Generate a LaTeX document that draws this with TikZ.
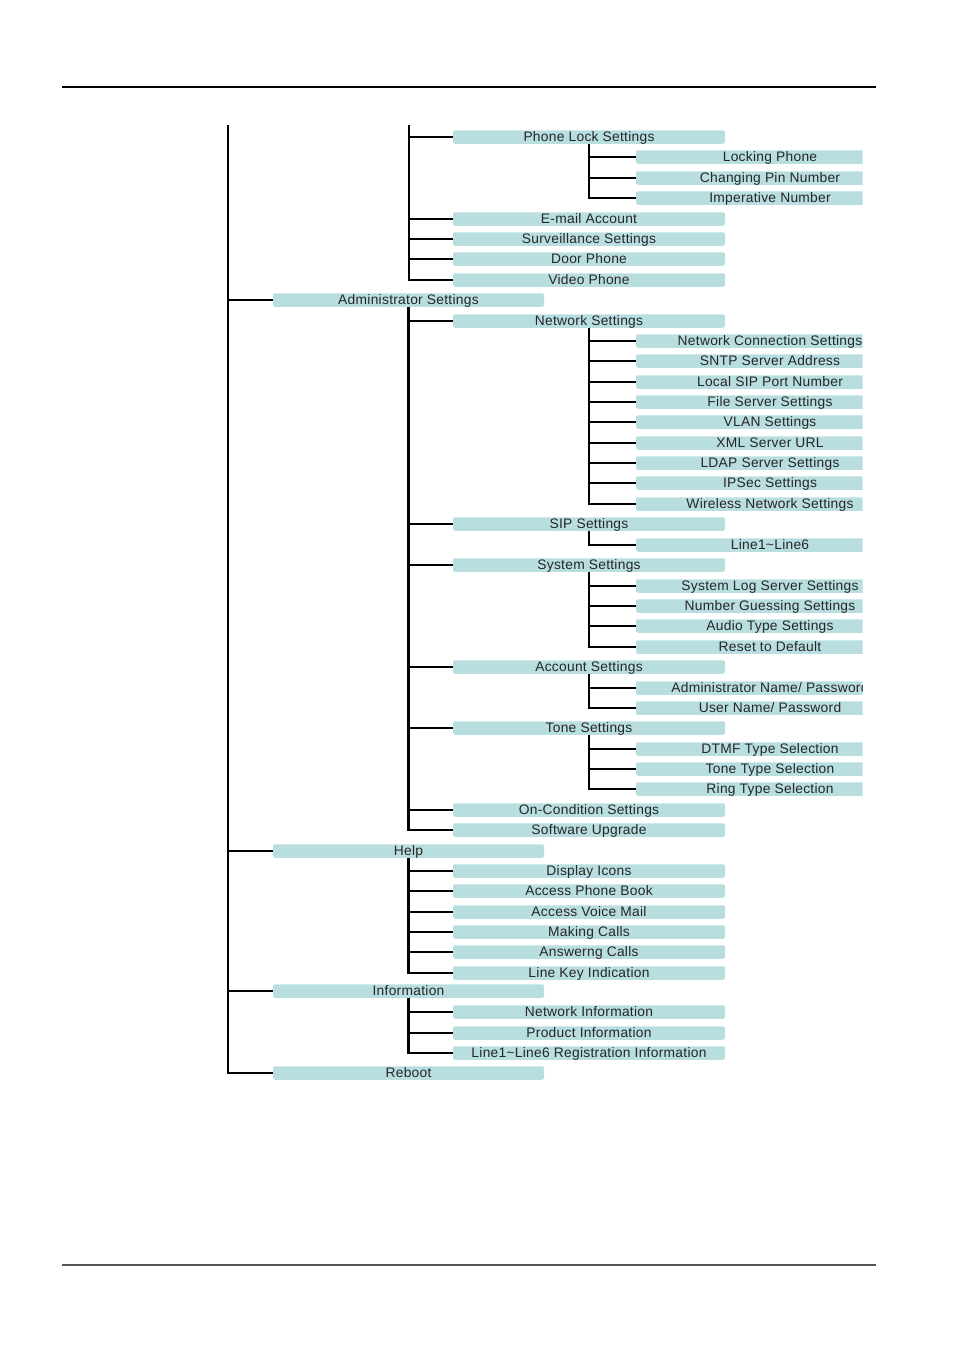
\documentclass[tikz,border=0pt]{standalone}
\usepackage{fontspec}
\setmainfont{Liberation Sans}
\definecolor{boxc}{RGB}{185,222,224}
\definecolor{rulec}{RGB}{85,85,85}
\begin{document}
\begin{tikzpicture}[x=1pt,y=-1pt,
  lbox/.style={rectangle,fill=boxc,rounded corners=2pt,inner sep=0pt,minimum height=13.5pt,
    text height=10pt,text depth=1.5pt,
    font=\fontsize{13.8}{15}\selectfont\addfontfeatures{LetterSpace=2},text=black!85},
  lone/.style={lbox,minimum width=271pt},
  ltwo/.style={lbox,minimum width=272pt},
  lthree/.style={lbox,minimum width=268pt},
  conn/.style={draw=black,line width=2.3pt}]
\useasboundingbox (0,0) rectangle (954,1350);
% page rules
\coordinate (tl) at (62,87); \coordinate (tr) at (876,87);
\coordinate (bl) at (62,1265); \coordinate (br) at (876,1265);
\draw[line width=2.2pt] (tl) -- (tr);
\draw[line width=1.6pt,rulec] (bl) -- (br);
% level 1
\node[lone] (admin) at (408.5,300) {Administrator Settings};
\node[lone] (help) at (408.5,851) {Help};
\node[lone] (info) at (408.5,991) {Information};
\node[lone] (reboot) at (408.5,1073) {Reboot};
% level 2
\node[ltwo] (plock) at (589,137) {Phone Lock Settings};
\node[ltwo] (email) at (589,219) {E-mail Account};
\node[ltwo] (surv) at (589,239) {Surveillance Settings};
\node[ltwo] (door) at (589,259) {Door Phone};
\node[ltwo] (video) at (589,280) {Video Phone};
\node[ltwo] (net) at (589,321) {Network Settings};
\node[ltwo] (sip) at (589,524) {SIP Settings};
\node[ltwo] (sys) at (589,565) {System Settings};
\node[ltwo] (acct) at (589,667) {Account Settings};
\node[ltwo] (tone) at (589,728) {Tone Settings};
\node[ltwo] (oncond) at (589,810) {On-Condition Settings};
\node[ltwo] (swup) at (589,830) {Software Upgrade};
\node[ltwo] (hdisp) at (589,871) {Display Icons};
\node[ltwo] (hbook) at (589,891) {Access Phone Book};
\node[ltwo] (hvoice) at (589,912) {Access Voice Mail};
\node[ltwo] (hmake) at (589,932) {Making Calls};
\node[ltwo] (hans) at (589,952) {Answerng Calls};
\node[ltwo] (hline) at (589,973) {Line Key Indication};
\node[ltwo] (inet) at (589,1012) {Network Information};
\node[ltwo] (iprod) at (589,1033) {Product Information};
\node[ltwo] (ireg) at (589,1053) {Line1\textasciitilde Line6 Registration Information};
% level 3 (clipped at the page edge)
\begin{scope}
\clip (0,0) rectangle (862.5,1350);
\node[lthree] (lock) at (770,157) {Locking Phone};
\node[lthree] (pin) at (770,178) {Changing Pin Number};
\node[lthree] (imper) at (770,198) {Imperative Number};
\node[lthree] (nconn) at (770,341) {Network Connection Settings};
\node[lthree] (sntp) at (770,361) {SNTP Server Address};
\node[lthree] (lsip) at (770,382) {Local SIP Port Number};
\node[lthree] (fsrv) at (770,402) {File Server Settings};
\node[lthree] (vlan) at (770,422) {VLAN Settings};
\node[lthree] (xml) at (770,443) {XML Server URL};
\node[lthree] (ldap) at (770,463) {LDAP Server Settings};
\node[lthree] (ipsec) at (770,483) {IPSec Settings};
\node[lthree] (wlan) at (770,504) {Wireless Network Settings};
\node[lthree] (lines) at (770,545) {Line1\textasciitilde Line6};
\node[lthree] (slog) at (770,586) {System Log Server Settings};
\node[lthree] (nguess) at (770,606) {Number Guessing Settings};
\node[lthree] (audio) at (770,626) {Audio Type Settings};
\node[lthree] (reset) at (770,647) {Reset to Default};
\node[lthree] (adminpw) at (770,688) {Administrator Name/ Password};
\node[lthree] (userpw) at (770,708) {User Name/ Password};
\node[lthree] (dtmf) at (770,749) {DTMF Type Selection};
\node[lthree] (ttype) at (770,769) {Tone Type Selection};
\node[lthree] (ring) at (770,789) {Ring Type Selection};
\end{scope}
% connectors: main trunk
\coordinate (top1) at (228,125);
\coordinate (top2) at (409,125);
\foreach \c in {admin,help,info,reboot} \draw[conn] (top1) |- (\c.west);
% level-2 trunk continuing from previous page
\foreach \c in {plock,email,surv,door,video} \draw[conn] (top2) |- (\c.west);
\foreach \c in {net,sip,sys,acct,tone,oncond,swup} \draw[conn] (admin.south) |- (\c.west);
\foreach \c in {hdisp,hbook,hvoice,hmake,hans,hline} \draw[conn] (help.south) |- (\c.west);
\foreach \c in {inet,iprod,ireg} \draw[conn] (info.south) |- (\c.west);
% level-3 connectors
\foreach \c in {lock,pin,imper} \draw[conn] (plock.south) |- (\c.west);
\foreach \c in {nconn,sntp,lsip,fsrv,vlan,xml,ldap,ipsec,wlan} \draw[conn] (net.south) |- (\c.west);
\draw[conn] (sip.south) |- (lines.west);
\foreach \c in {slog,nguess,audio,reset} \draw[conn] (sys.south) |- (\c.west);
\foreach \c in {adminpw,userpw} \draw[conn] (acct.south) |- (\c.west);
\foreach \c in {dtmf,ttype,ring} \draw[conn] (tone.south) |- (\c.west);
\end{tikzpicture}
\end{document}
